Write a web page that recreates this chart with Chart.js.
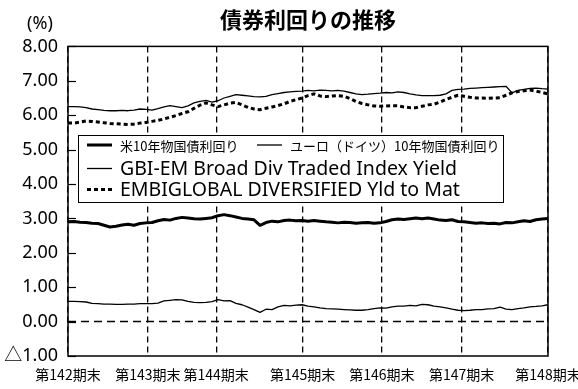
<!DOCTYPE html>
<html lang="ja">
<head>
<meta charset="utf-8">
<title>債券利回りの推移</title>
<script src="https://cdn.jsdelivr.net/npm/chart.js@4.4.1/dist/chart.umd.min.js"></script>
<style>
html, body { margin: 0; padding: 0; background: #fff; }
#wrap { width: 578px; height: 389px; position: relative; }
</style>
</head>
<body>
<div id="wrap"><canvas id="yield-chart"></canvas></div>
<script>
// period-end markers (x position in data steps) and their labels
const periodEnds = [0, 13.3, 24.7, 39.1, 52.3, 65.6, 80];
const periodLabels = ['第142期末', '第143期末', '第144期末', '第145期末', '第146期末', '第147期末', '第148期末'];

const yTicks = [-1, 0, 1, 2, 3, 4, 5, 6, 7, 8];

const seriesNames = [
    '米10年物国債利回り',
    'ユーロ（ドイツ）10年物国債利回り',
    'GBI-EM Broad Div Traded Index Yield',
    'EMBIGLOBAL DIVERSIFIED Yld to Mat'
];

const usYield = [
    2.90, 2.91, 2.89, 2.88, 2.86, 2.85, 2.80, 2.75, 2.77, 2.81,
    2.83, 2.80, 2.85, 2.87, 2.88, 2.93, 2.97, 2.95, 3.00, 3.03,
    3.01, 2.99, 2.98, 3.00, 3.02, 3.08, 3.11, 3.08, 3.04, 3.00,
    2.98, 2.96, 2.80, 2.88, 2.92, 2.90, 2.94, 2.95, 2.93, 2.94,
    2.92, 2.94, 2.92, 2.90, 2.89, 2.87, 2.89, 2.88, 2.86, 2.87,
    2.88, 2.86, 2.87, 2.91, 2.96, 2.98, 2.97, 2.99, 3.01, 2.99,
    3.01, 2.98, 2.95, 2.94, 2.96, 2.91, 2.90, 2.88, 2.86, 2.87,
    2.85, 2.86, 2.84, 2.88, 2.87, 2.90, 2.93, 2.91, 2.96, 2.98,
    3.00
];

const euroYield = [
    0.59, 0.59, 0.58, 0.57, 0.53, 0.52, 0.51, 0.51, 0.50, 0.50,
    0.51, 0.51, 0.52, 0.52, 0.52, 0.54, 0.60, 0.62, 0.64, 0.63,
    0.59, 0.56, 0.55, 0.56, 0.58, 0.64, 0.60, 0.61, 0.53, 0.49,
    0.42, 0.35, 0.27, 0.36, 0.35, 0.43, 0.47, 0.46, 0.48, 0.49,
    0.45, 0.43, 0.40, 0.38, 0.37, 0.36, 0.35, 0.34, 0.33, 0.33,
    0.35, 0.38, 0.40, 0.39, 0.43, 0.45, 0.45, 0.47, 0.46, 0.50,
    0.49, 0.45, 0.43, 0.40, 0.36, 0.33, 0.32, 0.33, 0.35, 0.35,
    0.37, 0.38, 0.42, 0.36, 0.35, 0.38, 0.40, 0.43, 0.44, 0.46,
    0.49
];

const gbiYield = [
    6.25, 6.25, 6.24, 6.22, 6.18, 6.16, 6.14, 6.13, 6.13, 6.14,
    6.13, 6.15, 6.18, 6.17, 6.15, 6.19, 6.24, 6.28, 6.25, 6.22,
    6.27, 6.36, 6.40, 6.43, 6.38, 6.42, 6.50, 6.55, 6.60, 6.58,
    6.56, 6.54, 6.53, 6.55, 6.60, 6.63, 6.66, 6.68, 6.69, 6.70,
    6.72, 6.71, 6.73, 6.72, 6.71, 6.72, 6.70, 6.66, 6.62, 6.60,
    6.61, 6.63, 6.64, 6.66, 6.65, 6.68, 6.66, 6.62, 6.59, 6.57,
    6.57, 6.57, 6.58, 6.62, 6.72, 6.75, 6.76, 6.78, 6.79, 6.80,
    6.81, 6.82, 6.83, 6.84, 6.65, 6.72, 6.75, 6.78, 6.79, 6.77,
    6.76
];

const embiYield = [
    5.77, 5.77, 5.80, 5.83, 5.82, 5.80, 5.78, 5.76, 5.75, 5.74,
    5.73, 5.74, 5.77, 5.79, 5.82, 5.85, 5.89, 5.94, 5.99, 6.05,
    6.10, 6.20, 6.29, 6.36, 6.30, 6.25, 6.30, 6.35, 6.37, 6.30,
    6.23, 6.18, 6.16, 6.20, 6.24, 6.28, 6.33, 6.40, 6.45, 6.50,
    6.57, 6.62, 6.56, 6.54, 6.56, 6.57, 6.55, 6.48, 6.40, 6.34,
    6.30, 6.27, 6.26, 6.27, 6.28, 6.27, 6.24, 6.22, 6.22, 6.26,
    6.30, 6.32, 6.38, 6.46, 6.52, 6.58, 6.55, 6.52, 6.50, 6.50,
    6.49, 6.50, 6.51, 6.58, 6.65, 6.69, 6.71, 6.73, 6.70, 6.66,
    6.62
];

const SANS = "'Noto Sans', 'Noto Sans CJK JP', sans-serif";
const CJK = "'Noto Sans CJK JP', 'Noto Sans', sans-serif";

const toPoints = values => values.map((v, i) => ({ x: i, y: v }));

function makeLine(label, values, width, dash) {
    return {
        label: label,
        data: toPoints(values),
        borderColor: '#000',
        borderWidth: width,
        borderDash: dash || [],
        borderCapStyle: 'butt',
        borderJoinStyle: 'round',
        pointRadius: 0,
        tension: 0,
        fill: false
    };
}

// dashed zero line under the data
const zeroLine = {
    id: 'zeroLine',
    beforeDatasetsDraw(chart) {
        const { ctx, chartArea } = chart;
        const y = chart.scales.y.getPixelForValue(0);
        ctx.save();
        ctx.strokeStyle = '#000';
        ctx.lineWidth = 1.5;
        ctx.setLineDash([8, 5]);
        ctx.beginPath();
        ctx.moveTo(chartArea.left, y);
        ctx.lineTo(chartArea.right - 4, y);
        ctx.stroke();
        ctx.restore();
    }
};

// plot frame, inward y ticks, unit label and boxed legend
const frameAndLegend = {
    id: 'frameAndLegend',
    afterDraw(chart) {
        const { ctx, chartArea } = chart;
        const yScale = chart.scales.y;
        ctx.save();

        ctx.strokeStyle = '#000';
        ctx.lineWidth = 1.5;
        ctx.setLineDash([]);
        ctx.strokeRect(chartArea.left, chartArea.top, chartArea.right - chartArea.left, chartArea.bottom - chartArea.top);

        ctx.lineWidth = 1.2;
        yTicks.forEach(v => {
            const y = Math.round(yScale.getPixelForValue(v)) + 0.5;
            ctx.beginPath();
            ctx.moveTo(chartArea.left, y);
            ctx.lineTo(chartArea.left + 8, y);
            ctx.stroke();
        });

        ctx.fillStyle = '#000';
        ctx.font = '18px ' + SANS;
        ctx.textAlign = 'center';
        ctx.textBaseline = 'middle';
        ctx.fillText('(%)', 40, 24);

        // legend box
        ctx.fillStyle = '#fff';
        ctx.fillRect(78, 135, 426, 68);
        ctx.lineWidth = 1;
        ctx.strokeStyle = '#000';
        ctx.strokeRect(78.5, 135.5, 425, 67);

        const items = [
            { x: 87, y: 145, font: '13px ' + CJK },
            { x: 257, y: 145, font: '13px ' + CJK },
            { x: 87, y: 168.5, font: '19.5px ' + SANS },
            { x: 87, y: 189.5, font: '19.5px ' + SANS }
        ];
        ctx.textAlign = 'left';
        items.forEach((item, i) => {
            const ds = chart.data.datasets[i];
            ctx.strokeStyle = '#000';
            ctx.lineWidth = ds.borderWidth;
            ctx.setLineDash(ds.borderDash);
            ctx.beginPath();
            ctx.moveTo(item.x, item.y);
            ctx.lineTo(item.x + 25, item.y);
            ctx.stroke();
            ctx.setLineDash([]);
            ctx.fillStyle = '#000';
            ctx.font = item.font;
            ctx.fillText(ds.label, item.x + 33, item.y + 1);
        });

        ctx.restore();
    }
};

const chart = new Chart(document.getElementById('yield-chart'), {
    type: 'line',
    data: {
        datasets: [
            makeLine(seriesNames[0], usYield, 3),
            makeLine(seriesNames[1], euroYield, 1.3),
            makeLine(seriesNames[2], gbiYield, 1.3),
            makeLine(seriesNames[3], embiYield, 3, [4, 3])
        ]
    },
    options: {
        responsive: true,
        maintainAspectRatio: false,
        animation: false,
        layout: {
            padding: { left: 0, right: 30, top: 0, bottom: 0 }
        },
        plugins: {
            legend: { display: false },
            tooltip: { enabled: false },
            title: {
                display: true,
                text: '債券利回りの推移',
                fullSize: false,
                color: '#000',
                font: { family: CJK, size: 22, weight: 'bold' },
                padding: { top: 6, bottom: 14 }
            }
        },
        scales: {
            x: {
                type: 'linear',
                min: 0,
                max: 80,
                afterBuildTicks: axis => {
                    axis.ticks = periodEnds.map(v => ({ value: v }));
                },
                afterFit: scale => {
                    scale.height = 33;
                    scale.paddingLeft = 0;
                    scale.paddingRight = 0;
                },
                grid: {
                    color: '#000',
                    lineWidth: 1.3,
                    drawTicks: false
                },
                border: { display: false, dash: [6, 4] },
                ticks: {
                    autoSkip: false,
                    maxRotation: 0,
                    padding: 10,
                    color: '#000',
                    font: { family: CJK, size: 14 },
                    callback: (value, index) => periodLabels[index]
                }
            },
            y: {
                min: -1,
                max: 8,
                afterBuildTicks: axis => {
                    axis.ticks = yTicks.map(v => ({ value: v }));
                },
                afterFit: scale => {
                    scale.width = 68;
                },
                grid: { display: false, drawTicks: false },
                border: { display: false },
                ticks: {
                    padding: 10,
                    color: '#000',
                    font: { family: SANS, size: 18 },
                    callback: value => value < 0 ? '△' + Math.abs(value).toFixed(2) : value.toFixed(2)
                }
            }
        }
    },
    plugins: [zeroLine, frameAndLegend]
});
</script>
</body>
</html>
